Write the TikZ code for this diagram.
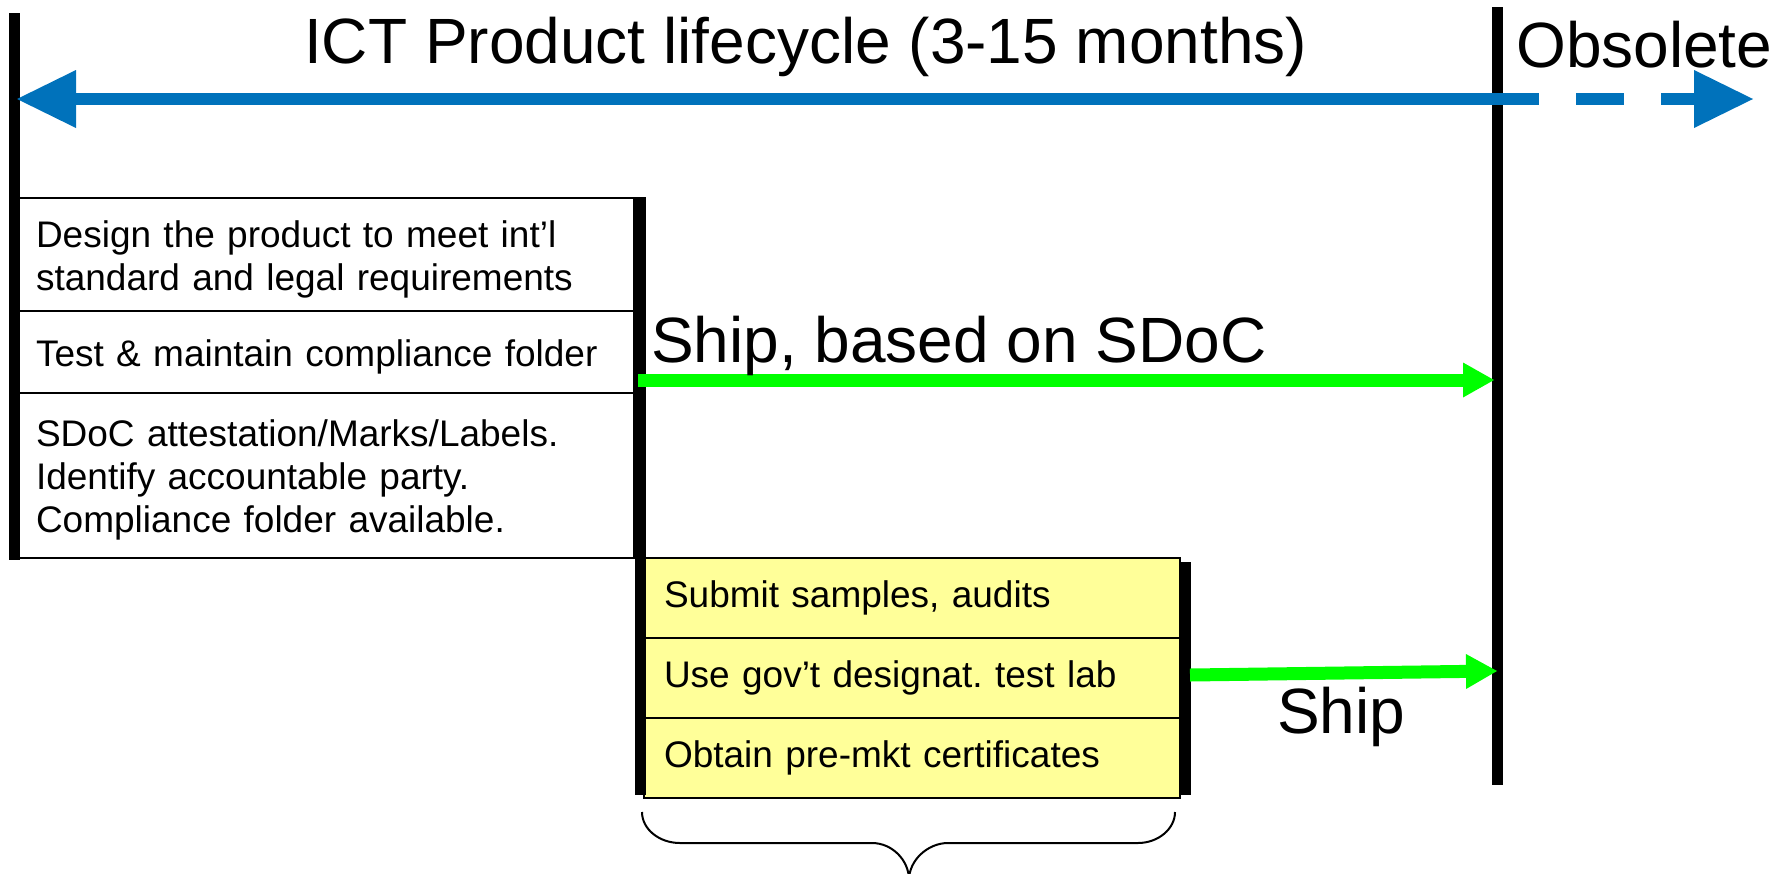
\documentclass[tikz,border=0pt]{standalone}
\usepackage{fontspec}
\setmainfont{Liberation Sans}
\usetikzlibrary{arrows.meta, positioning}
\definecolor{lifeblue}{HTML}{0072BB}
\definecolor{shipgreen}{HTML}{00FF00}
\definecolor{labyellow}{HTML}{FFFF99}

\begin{document}
\begin{tikzpicture}[
        x=1pt, y=-1pt,
        node distance=0pt,
        bigtext/.style={font=\fontsize{64}{70}\selectfont, inner sep=0pt, anchor=base west},
        row/.style={rectangle, draw, line width=2pt, minimum width=618pt, text width=578pt, inner xsep=20pt, inner ysep=0pt, outer sep=0pt, align=left, font=\fontsize{37}{43}\selectfont},
        lowrow/.style={row, execute at begin node={\rule{0pt}{36pt}}},
        labrow/.style={row, fill=labyellow, minimum width=536pt, text width=496pt, minimum height=80pt},
        marker/.style={line width=11pt},
        span/.style={line width=12pt, lifeblue, -{Triangle[length=59pt, width=58pt, line width=0pt]}},
        ship/.style={line width=13pt, shipgreen, -{Triangle[length=31pt, width=35pt, line width=0pt]}}
    ]

    \useasboundingbox (0,0) rectangle (1787,873);

    \node (design) [lowrow, minimum height=113pt, anchor=north west] at (16,198) {Design the product to meet int’l\\standard and legal requirements};
    \node (test) [lowrow, minimum height=82pt, below=of design] {Test \& maintain compliance folder};
    \node (sdoc) [lowrow, minimum height=165pt, below=of test] {SDoC attestation/Marks/Labels.\\Identify accountable party.\\Compliance folder available.};

    \node (samples) [labrow, anchor=north west] at (644,558) {Submit samples, audits};
    \node (lab) [labrow, below=of samples] {Use gov’t designat.\ test lab};
    \node (certs) [labrow, below=of lab] {Obtain pre-mkt certificates};

    \draw [marker] (14,13) -- (14,560);
    \draw [marker] (640,197) -- (640,795);
    \draw [marker] (1185,562) -- (1185,795);
    \draw [marker] (1497,7) -- (1497,785);

    \coordinate (lifeend) at (1491,99);
    \coordinate (lifestart) at (17,99);
    \coordinate (obsend) at (1753,99);
    \draw [span] (lifeend) -- (lifestart);
    \draw [span, dash pattern=on 48pt off 37pt] (lifeend) -- (obsend);

    \coordinate (sdocout) at (638,380);
    \coordinate (sdocin) at (1494,380);
    \draw [ship] (sdocout) -- (sdocin);
    \coordinate (labout) at (1190,675);
    \coordinate (labin) at (1497,671);
    \draw [ship] (labout) -- (labin);

    \node (title) [bigtext] at (304,63) {ICT Product lifecycle (3-15 months)};
    \node (obsolete) [bigtext] at (1516,67) {Obsolete};
    \node (shipsdoc) [bigtext] at (651,362) {Ship, based on SDoC};
    \node (shiplab) [bigtext] at (1277,733) {Ship};

    \draw [line width=2pt] (642,812) .. controls (642,829) and (659,843) .. (680,843) -- (872,843) .. controls (892,843) and (909,860) .. (909,880);
    \draw [line width=2pt] (1175,812) .. controls (1175,829) and (1158,843) .. (1138,843) -- (948,843) .. controls (928,843) and (909,860) .. (909,880);

    \end{tikzpicture}
\end{document}
